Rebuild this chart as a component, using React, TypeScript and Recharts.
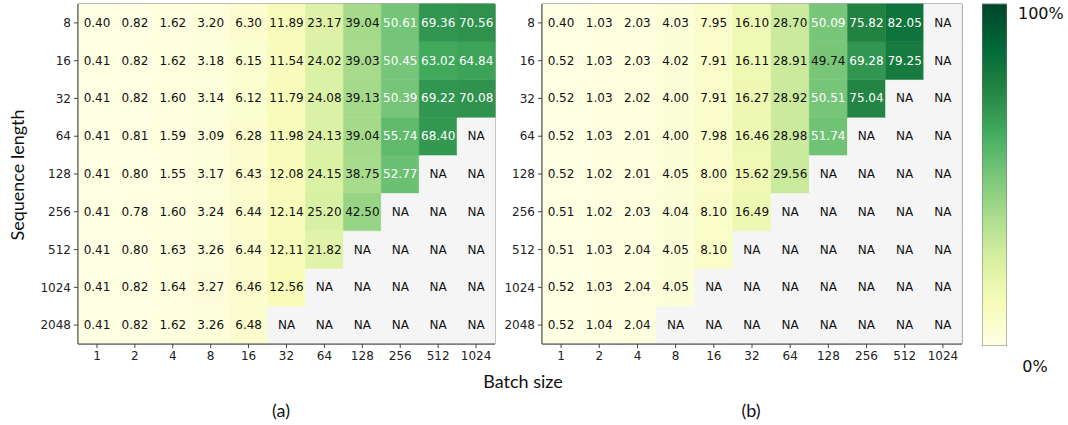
import React from "react";
import { BarChart, Bar, XAxis, YAxis, Cell, LabelList, ReferenceArea } from "recharts";

const batchSizes = ["1", "2", "4", "8", "16", "32", "64", "128", "256", "512", "1024"];
const seqLengths = ["8", "16", "32", "64", "128", "256", "512", "1024", "2048"];

// (a) rows = sequence length, columns = batch size, null = NA
const valuesA: (number | null)[][] = [
  [0.40, 0.82, 1.62, 3.20, 6.30, 11.89, 23.17, 39.04, 50.61, 69.36, 70.56],
  [0.41, 0.82, 1.62, 3.18, 6.15, 11.54, 24.02, 39.03, 50.45, 63.02, 64.84],
  [0.41, 0.82, 1.60, 3.14, 6.12, 11.79, 24.08, 39.13, 50.39, 69.22, 70.08],
  [0.41, 0.81, 1.59, 3.09, 6.28, 11.98, 24.13, 39.04, 55.74, 68.40, null],
  [0.41, 0.80, 1.55, 3.17, 6.43, 12.08, 24.15, 38.75, 52.77, null, null],
  [0.41, 0.78, 1.60, 3.24, 6.44, 12.14, 25.20, 42.50, null, null, null],
  [0.41, 0.80, 1.63, 3.26, 6.44, 12.11, 21.82, null, null, null, null],
  [0.41, 0.82, 1.64, 3.27, 6.46, 12.56, null, null, null, null, null],
  [0.41, 0.82, 1.62, 3.26, 6.48, null, null, null, null, null, null],
];

// (b)
const valuesB: (number | null)[][] = [
  [0.40, 1.03, 2.03, 4.03, 7.95, 16.10, 28.70, 50.09, 75.82, 82.05, null],
  [0.52, 1.03, 2.03, 4.02, 7.91, 16.11, 28.91, 49.74, 69.28, 79.25, null],
  [0.52, 1.03, 2.02, 4.00, 7.91, 16.27, 28.92, 50.51, 75.04, null, null],
  [0.52, 1.03, 2.01, 4.00, 7.98, 16.46, 28.98, 51.74, null, null, null],
  [0.52, 1.02, 2.01, 4.05, 8.00, 15.62, 29.56, null, null, null, null],
  [0.51, 1.02, 2.03, 4.04, 8.10, 16.49, null, null, null, null, null],
  [0.51, 1.03, 2.04, 4.05, 8.10, null, null, null, null, null, null],
  [0.52, 1.03, 2.04, 4.05, null, null, null, null, null, null, null],
  [0.52, 1.04, 2.04, null, null, null, null, null, null, null, null],
];

const YLGN = ["#ffffe5", "#f7fcb9", "#d9f0a3", "#addd8e", "#78c679", "#41ab5d", "#238443", "#006837", "#004529"];
const NA_COLOR = "#f5f5f5";
const FONT = "'DejaVu Sans', sans-serif";
const LABEL_FONT = "Lato, 'Open Sans', sans-serif";

const hexToRgb = (h: string) => [1, 3, 5].map((i) => parseInt(h.slice(i, i + 2), 16));

function ylgn(t: number) {
  const p = Math.max(0, Math.min(1, t)) * (YLGN.length - 1);
  const i = Math.min(Math.floor(p), YLGN.length - 2);
  const f = p - i;
  const a = hexToRgb(YLGN[i]);
  const b = hexToRgb(YLGN[i + 1]);
  const c = a.map((v, k) => Math.round(v + (b[k] - v) * f));
  return `rgb(${c[0]},${c[1]},${c[2]})`;
}

const rowTicks = seqLengths.map((_, i) => i + 0.5);

function Heatmap({ values, width, yAxisWidth }: { values: (number | null)[][]; width: number; yAxisWidth: number }) {
  const n = seqLengths.length;
  const data = batchSizes.map((b, c) => {
    const row: Record<string, any> = { batch: b };
    seqLengths.forEach((_, r) => {
      row[`r${r}`] = 1;
      const v = values[r][c];
      row[`t${r}`] = v == null ? "NA" : v.toFixed(2);
    });
    return row;
  });
  // bottom of the stack is the last sequence length
  const order = seqLengths.map((_, i) => n - 1 - i);

  return (
    <BarChart
      width={width}
      height={380}
      data={data}
      margin={{ top: 4, right: 5, bottom: 6, left: 0 }}
      barCategoryGap={0}
      barGap={0}
    >
      <XAxis
        dataKey="batch"
        interval={0}
        height={30}
        tickSize={4}
        tickMargin={3}
        axisLine={{ stroke: "#444" }}
        tickLine={{ stroke: "#444" }}
        tick={{ fontSize: 12, fill: "#222", fontFamily: FONT }}
      />
      <YAxis
        type="number"
        domain={[0, n]}
        ticks={rowTicks}
        interval={0}
        width={yAxisWidth}
        tickSize={4}
        tickMargin={3}
        tickFormatter={(v: number) => seqLengths[n - 1 - Math.floor(v)]}
        axisLine={{ stroke: "#444" }}
        tickLine={{ stroke: "#444" }}
        tick={{ fontSize: 12, fill: "#222", fontFamily: FONT }}
      />
      {order.map((r) => (
        <Bar key={r} dataKey={`r${r}`} stackId="s" isAnimationActive={false}>
          {batchSizes.map((_, c) => {
            const v = values[r][c];
            const fill = v == null ? NA_COLOR : ylgn(v / 100);
            return <Cell key={c} fill={fill} stroke={fill} strokeWidth={0.5} />;
          })}
          <LabelList
            dataKey={`t${r}`}
            content={(props: any) => {
              const vb = props.viewBox || props;
              const txt = String(props.value);
              const num = parseFloat(txt);
              const color = !isNaN(num) && num > 50 ? "#ffffff" : "#111";
              return (
                <text
                  x={vb.x + vb.width / 2}
                  y={vb.y + vb.height / 2}
                  textAnchor="middle"
                  dominantBaseline="central"
                  fontSize={12}
                  fontFamily={FONT}
                  fill={color}
                >
                  {txt}
                </text>
              );
            }}
          />
        </Bar>
      ))}
      <ReferenceArea y1={0} y2={n} fill="none" fillOpacity={0} stroke="#555" strokeWidth={1} ifOverflow="visible" />
    </BarChart>
  );
}

function ColorBar() {
  const data = [{ name: "cb", value: 100 }];
  return (
    <BarChart width={25} height={346} data={data} margin={{ top: 4, right: 0, bottom: 0, left: 0 }} barCategoryGap={0}>
      <defs>
        <linearGradient id="ylgnGrad" x1="0" y1="1" x2="0" y2="0">
          {YLGN.map((c, i) => (
            <stop key={i} offset={`${(i / (YLGN.length - 1)) * 100}%`} stopColor={c} />
          ))}
        </linearGradient>
      </defs>
      <XAxis dataKey="name" hide />
      <YAxis type="number" domain={[0, 100]} hide />
      <Bar dataKey="value" fill="url(#ylgnGrad)" stroke="#777" strokeWidth={1} isAnimationActive={false} />
    </BarChart>
  );
}

export default function App() {
  return (
    <div style={{ position: "absolute", left: 0, top: 0, width: 1068, height: 425, background: "#fff", fontFamily: FONT }}>
      <div style={{ position: "absolute", left: 0, top: 0 }}>
        <Heatmap values={valuesA} width={500} yAxisWidth={78} />
      </div>
      <div style={{ position: "absolute", left: 460, top: 0 }}>
        <Heatmap values={valuesB} width={507} yAxisWidth={82} />
      </div>
      <div style={{ position: "absolute", left: 982, top: 0 }}>
        <ColorBar />
      </div>
      <svg width={1068} height={425} style={{ position: "absolute", left: 0, top: 0, pointerEvents: "none" }}>
        <text x={17} y={175} transform="rotate(-90 17 175)" textAnchor="middle" dominantBaseline="central" fontSize={18} fontFamily={LABEL_FONT} fill="#111">
          Sequence length
        </text>
        <text x={523} y={381} textAnchor="middle" dominantBaseline="central" fontSize={18} fontFamily={LABEL_FONT} fill="#111">
          Batch size
        </text>
        <text x={281} y={410} textAnchor="middle" dominantBaseline="central" fontSize={18} fontFamily={LABEL_FONT} fill="#111">
          (a)
        </text>
        <text x={751} y={410} textAnchor="middle" dominantBaseline="central" fontSize={18} fontFamily={LABEL_FONT} fill="#111">
          (b)
        </text>
        <text x={1018} y={13} dominantBaseline="central" fontSize={16} fontFamily={FONT} fill="#111">
          100%
        </text>
        <text x={1035} y={366} textAnchor="middle" dominantBaseline="central" fontSize={16} fontFamily={FONT} fill="#111">
          0%
        </text>
      </svg>
    </div>
  );
}
